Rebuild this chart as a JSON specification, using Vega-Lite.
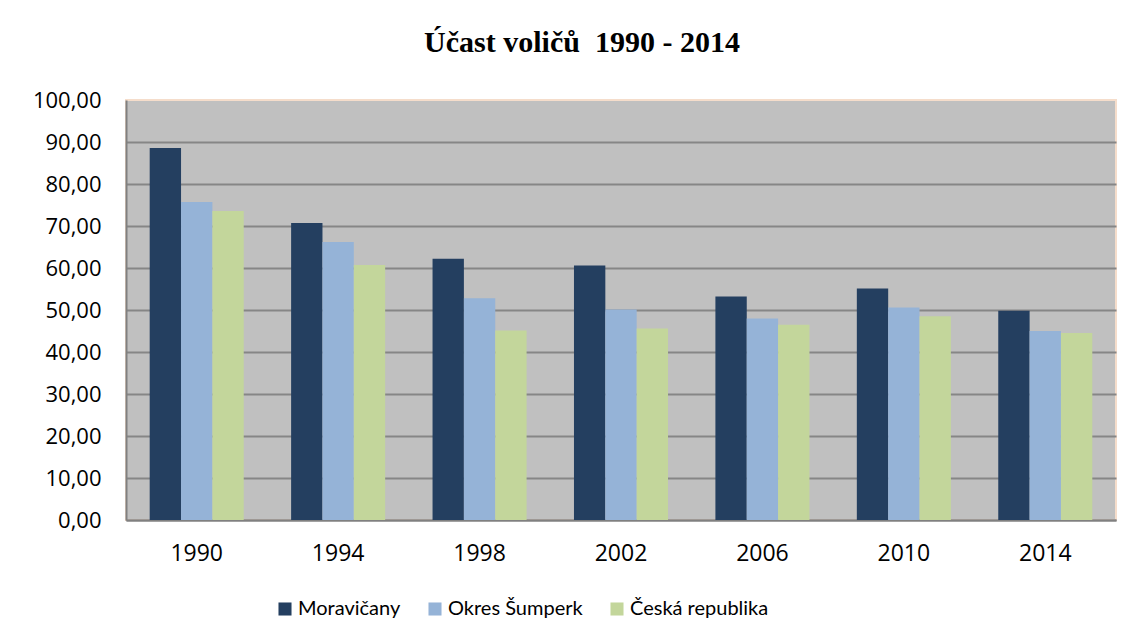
{
  "$schema": "https://vega.github.io/schema/vega-lite/v6.json",
  "width": 990,
  "height": 420,
  "autosize": {"type": "none"},
  "padding": {"left": 126, "top": 100, "right": 17, "bottom": 123},
  "background": "white",
  "config": {
    "locale": {"number": {"decimal": ",", "thousands": " ", "grouping": [3], "currency": ["", " Kč"]}},
    "view": {"fill": "#C0C0C0", "stroke": "#F5DDCB", "strokeWidth": 2},
    "font": "Open Sans"
  },
  "title": {
    "text": "Účast voličů\u00a0 1990 - 2014",
    "font": "Liberation Serif",
    "fontWeight": "bold",
    "fontSize": 30,
    "color": "black",
    "anchor": "middle",
    "frame": "group",
    "dx": -39,
    "offset": 31
  },
  "data": {
    "values": [
      {"year": "1990", "series": "Moravičany", "value": 88.6},
      {"year": "1990", "series": "Okres Šumperk", "value": 75.7},
      {"year": "1990", "series": "Česká republika", "value": 73.6},
      {"year": "1994", "series": "Moravičany", "value": 70.7},
      {"year": "1994", "series": "Okres Šumperk", "value": 66.2},
      {"year": "1994", "series": "Česká republika", "value": 60.7},
      {"year": "1998", "series": "Moravičany", "value": 62.2},
      {"year": "1998", "series": "Okres Šumperk", "value": 52.8},
      {"year": "1998", "series": "Česká republika", "value": 45.1},
      {"year": "2002", "series": "Moravičany", "value": 60.6},
      {"year": "2002", "series": "Okres Šumperk", "value": 50.1},
      {"year": "2002", "series": "Česká republika", "value": 45.6},
      {"year": "2006", "series": "Moravičany", "value": 53.2},
      {"year": "2006", "series": "Okres Šumperk", "value": 48.0},
      {"year": "2006", "series": "Česká republika", "value": 46.5},
      {"year": "2010", "series": "Moravičany", "value": 55.1},
      {"year": "2010", "series": "Okres Šumperk", "value": 50.6},
      {"year": "2010", "series": "Česká republika", "value": 48.5},
      {"year": "2014", "series": "Moravičany", "value": 49.8},
      {"year": "2014", "series": "Okres Šumperk", "value": 45.0},
      {"year": "2014", "series": "Česká republika", "value": 44.5}
    ]
  },
  "mark": {"type": "bar"},
  "encoding": {
    "x": {
      "field": "year",
      "type": "nominal",
      "scale": {"paddingInner": 0.335, "paddingOuter": 0.1675},
      "axis": {
        "title": null,
        "labelAngle": 0,
        "ticks": false,
        "tickSize": 0,
        "domainColor": "#808080",
        "domainWidth": 2,
        "labelFontSize": 23,
        "labelPadding": 22,
        "labelColor": "black"
      }
    },
    "xOffset": {
      "field": "series",
      "type": "nominal",
      "sort": ["Moravičany", "Okres Šumperk", "Česká republika"],
      "scale": {"paddingInner": 0, "paddingOuter": 0}
    },
    "y": {
      "field": "value",
      "type": "quantitative",
      "scale": {"domain": [0, 100]},
      "axis": {
        "title": null,
        "values": [0, 10, 20, 30, 40, 50, 60, 70, 80, 90, 100],
        "format": ".2f",
        "gridColor": {"condition": {"test": "datum.value === 100", "value": "transparent"}, "value": "#868686"},
        "gridWidth": 2,
        "domainColor": "#808080",
        "domainWidth": 2,
        "ticks": false,
        "tickSize": 0,
        "labelPadding": 25,
        "labelFontSize": 22,
        "labelColor": "black"
      }
    },
    "color": {
      "field": "series",
      "type": "nominal",
      "scale": {
        "domain": ["Moravičany", "Okres Šumperk", "Česká republika"],
        "range": ["#243F60", "#95B3D7", "#C3D69B"]
      },
      "legend": {
        "title": null,
        "orient": "none",
        "legendX": 149,
        "legendY": 499,
        "direction": "horizontal",
        "symbolType": "square",
        "symbolSize": 170,
        "symbolStrokeWidth": 0,
        "labelFont": "Lato",
        "labelFontSize": 20,
        "labelColor": "black",
        "labelOffset": 3,
        "columnPadding": 24,
        "padding": 0
      }
    }
  }
}
